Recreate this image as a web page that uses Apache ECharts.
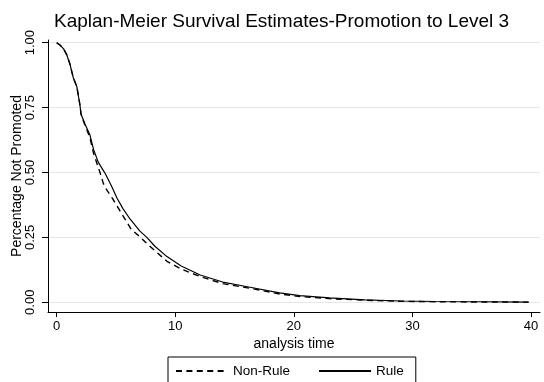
<!DOCTYPE html>
<html>
<head>
<meta charset="utf-8">
<script src="https://cdn.jsdelivr.net/npm/echarts@6/dist/echarts.min.js"></script>
<style>html,body{margin:0;padding:0;background:#fff}#c{width:544px;height:382px}</style>
</head>
<body>
<div id="c"></div>
<script>
var titleText = 'Kaplan-Meier Survival Estimates-Promotion to Level 3';
var seriesNames = ['Non-Rule', 'Rule'];
var xTicks = [0, 10, 20, 30, 40];
var yTicks = [0, 0.25, 0.5, 0.75, 1];

var ruleTime = [0, 0.3, 0.6, 0.85, 1.1, 1.4, 1.7, 1.96, 2.05, 2.4, 2.8, 3.1, 3.5, 3.9, 4.1, 4.6, 5.1, 5.6, 6.2, 7.0, 7.6, 8.3, 9.3, 10.5, 12.1, 14, 16.3, 18.8, 20.5, 23, 26, 29, 32, 36, 39.8];
var ruleSurv = [1.0, 0.99, 0.975, 0.953, 0.92, 0.865, 0.83, 0.76, 0.725, 0.685, 0.645, 0.59, 0.54, 0.51, 0.495, 0.45, 0.40, 0.36, 0.32, 0.275, 0.25, 0.215, 0.176, 0.14, 0.105, 0.078, 0.058, 0.036, 0.026, 0.017, 0.009, 0.005, 0.003, 0.002, 0.001];

var nonRuleTime = [0, 0.3, 0.6, 0.85, 1.1, 1.4, 1.7, 1.96, 2.05, 2.4, 2.8, 3.1, 3.65, 3.93, 4.22, 4.7, 5.3, 6.3, 7.0, 7.7, 8.5, 9.3, 10.5, 12.1, 14, 16.3, 18.8, 20.5, 23, 26, 29, 32, 36, 39.8];
var nonRuleSurv = [1.0, 0.99, 0.975, 0.953, 0.92, 0.865, 0.83, 0.76, 0.725, 0.68, 0.635, 0.575, 0.50, 0.458, 0.433, 0.40, 0.355, 0.28, 0.253, 0.222, 0.19, 0.158, 0.128, 0.099, 0.072, 0.054, 0.032, 0.022, 0.014, 0.008, 0.004, 0.002, 0.001, 0.0008, 0.0005];

function pairs(t, s) { return t.map(function (v, i) { return [v, s[i]]; }); }

var font = 'Liberation Sans, Arial, Helvetica, sans-serif';
var chart = echarts.init(document.getElementById('c'), null, {renderer: 'canvas'});
chart.setOption({
  animation: false,
  backgroundColor: '#fff',
  textStyle: {fontFamily: font, color: '#000'},
  title: {
    text: titleText, left: 49, top: 7,
    textStyle: {fontFamily: font, fontSize: 19, fontWeight: 'normal', color: '#000'}
  },
  grid: {left: 48, right: 4, top: 40, bottom: 70, containLabel: false, outerBoundsMode: 'none'},
  legend: {
    left: 168, top: 357,
    data: seriesNames,
    itemWidth: 52, itemHeight: 14, itemGap: 28,
    padding: [7, 12, 7, 7],
    borderColor: '#000', borderWidth: 1, borderRadius: 0,
    itemStyle: {opacity: 0, borderWidth: 0},
    textStyle: {fontFamily: font, fontSize: 13.5, color: '#000'}
  },
  xAxis: {
    type: 'value', min: -0.734, max: 40.76,
    name: 'analysis time', nameLocation: 'middle', nameGap: 25, nameMoveOverlap: false,
    nameTextStyle: {fontFamily: font, fontSize: 14, color: '#000'},
    axisLine: {show: true, onZero: false, lineStyle: {color: '#000', width: 1}},
    axisTick: {show: true, length: 5, customValues: xTicks, lineStyle: {color: '#000'}},
    axisLabel: {customValues: xTicks, margin: 8, fontFamily: font, fontSize: 13, color: '#000'},
    splitLine: {show: false}
  },
  yAxis: {
    type: 'value', min: -0.0374, max: 1.0104,
    name: 'Percentage Not Promoted', nameLocation: 'middle', nameGap: 24, nameMoveOverlap: false,
    nameTextStyle: {fontFamily: font, fontSize: 14, color: '#000'},
    axisLine: {show: true, onZero: false, lineStyle: {color: '#000', width: 1}},
    axisTick: {show: true, length: 6, customValues: yTicks, lineStyle: {color: '#000'}},
    axisLabel: {customValues: yTicks, rotate: 90, margin: 11, fontFamily: font, fontSize: 13, color: '#000',
      formatter: function (v) { return v.toFixed(2); }},
    splitLine: {show: true, lineStyle: {color: '#e6e6e6', width: 1}}
  },
  series: [
    {
      name: seriesNames[0], type: 'line', symbol: 'none', showSymbol: false,
      data: pairs(nonRuleTime, nonRuleSurv),
      lineStyle: {color: '#000', width: 1.4, type: [6, 4.4]},
      itemStyle: {color: '#000'}
    },
    {
      name: seriesNames[1], type: 'line', symbol: 'none', showSymbol: false,
      data: pairs(ruleTime, ruleSurv),
      lineStyle: {color: '#000', width: 1.2, type: 'solid'},
      itemStyle: {color: '#000'}
    }
  ]
});
</script>
</body>
</html>
